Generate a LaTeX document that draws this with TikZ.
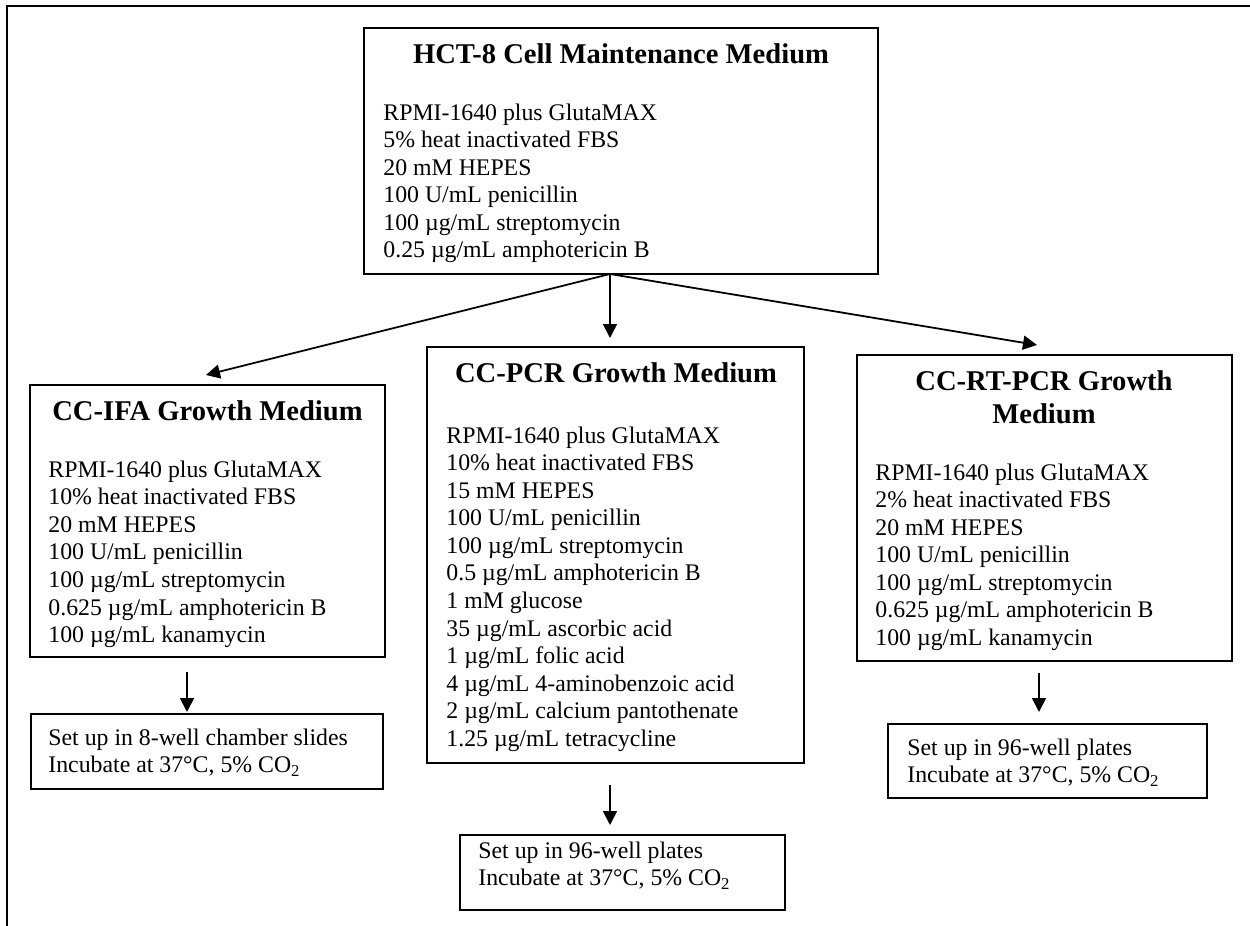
\documentclass[tikz,border=0pt]{standalone}
\usepackage{fontspec}
\setmainfont{Liberation Serif}
\usetikzlibrary{arrows.meta,fit}
\tikzset{
  box/.style={draw, line width=0.65pt, inner sep=0pt},
  arr/.style={line width=0.9pt, -{Triangle[length=7pt,width=7pt]}},
  frameline/.style={line width=1pt},
  ttl/.style={anchor=base, inner sep=0pt, font=\fontsize{14.3pt}{16.5pt}\selectfont\bfseries},
  lst/.style={anchor=base west, inner sep=0pt, font=\fontsize{11.9pt}{13.8pt}\selectfont},
}
\newcommand{\mylist}[1]{\begin{tabular}[t]{@{}l@{}}#1\end{tabular}}
\newcommand{\mycenter}[1]{\begin{tabular}[t]{@{}c@{}}#1\end{tabular}}
\begin{document}
\begin{tikzpicture}[x=0.5pt,y=-0.5pt]
\useasboundingbox (0,0) rectangle (1250,926);
% outer frame (top and left)
\draw[frameline] (7,926) -- (7,6) -- (1250,6);

% boxes
\node[box, fit={(364,28) (878,274)}] (T) {};
\node[box, fit={(30,385) (385,657)}] (L) {};
\node[box, fit={(427,347) (804,763)}] (M) {};
\node[box, fit={(857,355) (1232,661)}] (R) {};
\node[box, fit={(31,714) (383,789)}] (LB) {};
\node[box, fit={(460,835) (785,910)}] (MB) {};
\node[box, fit={(888,724) (1207,798)}] (RB) {};

% texts
\node[ttl] (Tt) at (621,63) {HCT-8 Cell Maintenance Medium};
\node[lst] (Tl) at (383,120) {\mylist{RPMI-1640 plus GlutaMAX\\5\% heat inactivated FBS\\20 mM HEPES\\100 U/mL penicillin\\100 µg/mL streptomycin\\0.25 µg/mL amphotericin B}};

\node[ttl] (Lt) at (207.5,420) {CC-IFA Growth Medium};
\node[lst] (Ll) at (48,477) {\mylist{RPMI-1640 plus GlutaMAX\\10\% heat inactivated FBS\\20 mM HEPES\\100 U/mL penicillin\\100 µg/mL streptomycin\\0.625 µg/mL amphotericin B\\100 µg/mL kanamycin}};

\node[ttl] (Mt) at (616,382) {CC-PCR Growth Medium};
\node[lst] (Ml) at (446,443) {\mylist{RPMI-1640 plus GlutaMAX\\10\% heat inactivated FBS\\15 mM HEPES\\100 U/mL penicillin\\100 µg/mL streptomycin\\0.5 µg/mL amphotericin B\\1 mM glucose\\35 µg/mL ascorbic acid\\1 µg/mL folic acid\\4 µg/mL 4-aminobenzoic acid\\2 µg/mL calcium pantothenate\\1.25 µg/mL tetracycline}};

\node[ttl] (Rt) at (1044,390) {\mycenter{CC-RT-PCR Growth\\Medium}};
\node[lst] (Rl) at (875,480) {\mylist{RPMI-1640 plus GlutaMAX\\2\% heat inactivated FBS\\20 mM HEPES\\100 U/mL penicillin\\100 µg/mL streptomycin\\0.625 µg/mL amphotericin B\\100 µg/mL kanamycin}};

\node[lst] (LBt) at (48,745) {\mylist{Set up in 8-well chamber slides\\Incubate at 37°C, 5\% CO\textsubscript{2}}};
\node[lst] (MBt) at (478,858) {\mylist{Set up in 96-well plates\\Incubate at 37°C, 5\% CO\textsubscript{2}}};
\node[lst] (RBt) at (907,755) {\mylist{Set up in 96-well plates\\Incubate at 37°C, 5\% CO\textsubscript{2}}};

% connector points
\coordinate (o) at (610,274);
\coordinate (tL) at (206,375);
\coordinate (tM) at (610,338);
\coordinate (tR) at (1037,345);
\coordinate (sL) at (187,672);
\coordinate (eL) at (187,712);
\coordinate (sM) at (610,785);
\coordinate (eM) at (610,825);
\coordinate (sR) at (1039,673);
\coordinate (eR) at (1039,712);

\draw[arr] (o) -- (tL);
\draw[arr] (o) -- (tM);
\draw[arr] (o) -- (tR);
\draw[arr] (sL) -- (eL);
\draw[arr] (sM) -- (eM);
\draw[arr] (sR) -- (eR);
\end{tikzpicture}
\end{document}
